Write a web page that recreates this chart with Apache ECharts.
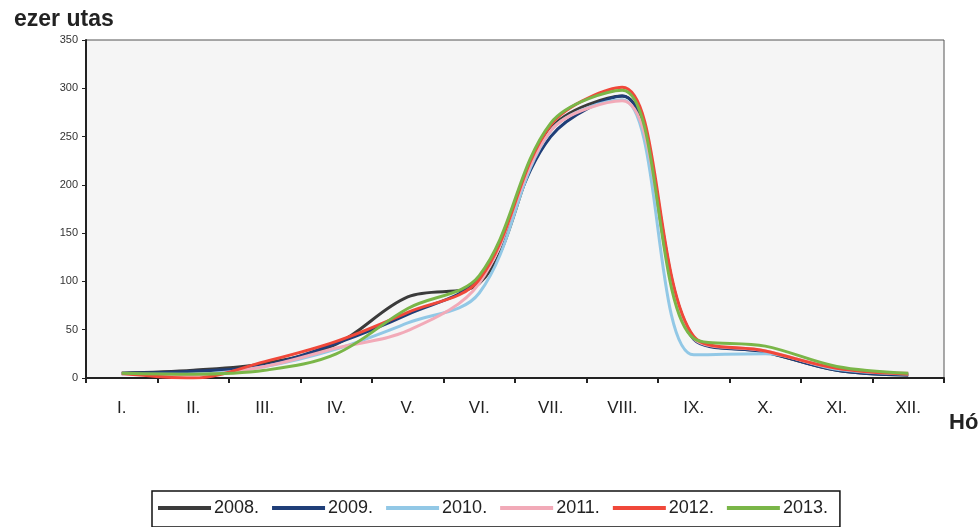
<!DOCTYPE html>
<html>
<head>
<meta charset="utf-8">
<script src="https://cdn.jsdelivr.net/npm/echarts@6/dist/echarts.min.js"></script>
<style>
html,body{margin:0;padding:0;background:#fff;}
#chart{width:980px;height:527px;}
</style>
</head>
<body>
<div id="chart"></div>
<script>
// havi utasszám (ezer utas)
var months = ['I.', 'II.', 'III.', 'IV.', 'V.', 'VI.', 'VII.', 'VIII.', 'IX.', 'X.', 'XI.', 'XII.'];
var yearNames = ['2008.', '2009.', '2010.', '2011.', '2012.', '2013.'];
var d2008 = [5, 8, 15, 35, 84, 98, 258, 292, 42, 27, 8, 3];
var d2009 = [5, 7, 13, 36, 66, 104, 250, 292, 40, 27, 8, 3];
var d2010 = [4, 4, 12, 30, 57, 88, 256, 288, 24, 25, 9, 4];
var d2011 = [4, 3, 12, 31, 49, 98, 256, 287, 41, 28, 10, 5];
var d2012 = [5, 0, 17, 38, 68, 102, 262, 301, 43, 28, 10, 4];
var d2013 = [5, 4, 8, 25, 72, 106, 264, 298, 41, 33, 12, 5];
var yearColors = ['#3b3b3b', '#1f3e78', '#92c8e6', '#f2aab8', '#f0483a', '#7ab648'];

var chart = echarts.init(document.getElementById('chart'));
var allData = [d2008, d2009, d2010, d2011, d2012, d2013];
var series = [];
for (var i = 0; i < yearNames.length; i++) {
    series.push({
        name: yearNames[i],
        type: 'line',
        smooth: 0.35,
        symbol: 'none',
        lineStyle: {width: 3, color: yearColors[i]},
        itemStyle: {color: yearColors[i]},
        data: allData[i]
    });
}

var option = {
    animation: false,
    textStyle: {fontFamily: 'Liberation Sans, Arial, sans-serif'},
    title: [{
        text: 'ezer utas',
        left: 9, top: 3,
        textStyle: {fontSize: 23, fontWeight: 'bold', color: '#222'}
    }, {
        text: 'Hó',
        left: 944, top: 407,
        textStyle: {fontSize: 22, fontWeight: 'bold', color: '#222'}
    }],
    grid: {
        left: 86, right: 36, top: 40, bottom: 149,
        show: true,
        backgroundColor: '#f5f5f5',
        borderColor: '#555',
        borderWidth: 1
    },
    legend: {
        data: yearNames,
        left: 152, top: 491,
        width: 696,
        padding: [8, 12, 10, 6],
        borderColor: '#111',
        borderWidth: 1.5,
        icon: 'rect',
        itemWidth: 53,
        itemHeight: 4,
        itemGap: 13,
        textStyle: {fontSize: 18, color: '#222', padding: [0, 0, 0, -2]}
    },
    xAxis: {
        type: 'category',
        data: months,
        boundaryGap: true,
        axisLine: {lineStyle: {color: '#222', width: 2}},
        axisTick: {show: true, length: 5, lineStyle: {color: '#222', width: 2}},
        axisLabel: {fontSize: 17, color: '#222', margin: 22}
    },
    yAxis: {
        type: 'value',
        min: 0, max: 350, interval: 50,
        axisLine: {show: true, lineStyle: {color: '#222', width: 2}},
        axisTick: {show: true, length: 4, lineStyle: {color: '#222'}},
        splitLine: {show: false},
        axisLabel: {fontSize: 11, color: '#333', margin: 8}
    },
    series: series
};
chart.setOption(option);
</script>
</body>
</html>
